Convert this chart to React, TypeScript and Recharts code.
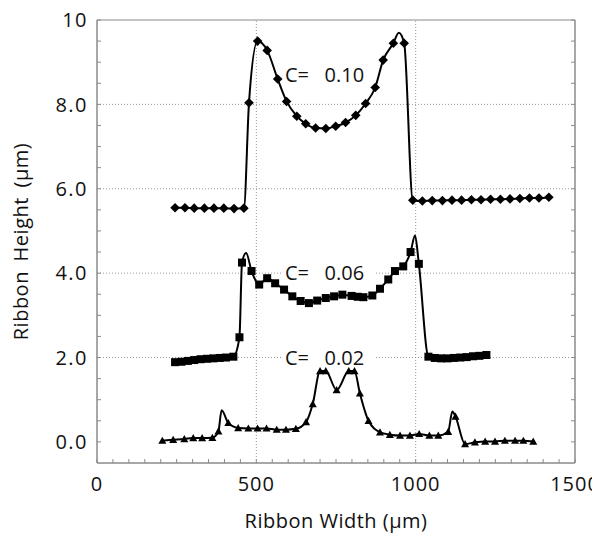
import React from 'react';
import {
  ComposedChart,
  Line,
  Scatter,
  XAxis,
  YAxis,
  ReferenceLine,
  ReferenceArea,
  ReferenceDot,
} from 'recharts';

type P = { x: number; y: number };

// C = 0.10 (diamond markers)
const c10Markers: P[] = [
  { x: 245, y: 5.55 }, { x: 276, y: 5.55 }, { x: 305, y: 5.54 }, { x: 337, y: 5.54 },
  { x: 367, y: 5.54 }, { x: 398, y: 5.54 }, { x: 430, y: 5.53 }, { x: 461, y: 5.54 },
  { x: 477, y: 8.04 }, { x: 504, y: 9.5 }, { x: 534, y: 9.28 }, { x: 567, y: 8.6 },
  { x: 595, y: 8.07 }, { x: 627, y: 7.72 }, { x: 655, y: 7.54 }, { x: 686, y: 7.44 },
  { x: 718, y: 7.43 }, { x: 749, y: 7.48 }, { x: 780, y: 7.57 }, { x: 812, y: 7.74 },
  { x: 843, y: 8.02 }, { x: 873, y: 8.4 }, { x: 898, y: 9.05 }, { x: 930, y: 9.45 },
  { x: 964, y: 9.45 }, { x: 991, y: 5.73 }, { x: 1021, y: 5.71 }, { x: 1052, y: 5.72 },
  { x: 1084, y: 5.72 }, { x: 1114, y: 5.73 }, { x: 1144, y: 5.73 }, { x: 1175, y: 5.74 },
  { x: 1205, y: 5.74 }, { x: 1235, y: 5.75 }, { x: 1266, y: 5.75 }, { x: 1296, y: 5.76 },
  { x: 1327, y: 5.77 }, { x: 1357, y: 5.78 }, { x: 1387, y: 5.78 }, { x: 1418, y: 5.8 },
];
const c10CurveOnly: P[] = [{ x: 947, y: 9.7 }];

// C = 0.06 (square markers)
const c06Markers: P[] = [
  { x: 245, y: 1.89 }, { x: 265, y: 1.9 }, { x: 285, y: 1.92 }, { x: 305, y: 1.94 },
  { x: 325, y: 1.96 }, { x: 345, y: 1.97 }, { x: 365, y: 1.98 }, { x: 385, y: 1.99 },
  { x: 405, y: 2.0 }, { x: 428, y: 2.02 }, { x: 447, y: 2.48 }, { x: 455, y: 4.25 },
  { x: 485, y: 4.05 }, { x: 509, y: 3.73 }, { x: 534, y: 3.88 }, { x: 559, y: 3.76 },
  { x: 587, y: 3.61 }, { x: 613, y: 3.45 }, { x: 639, y: 3.34 }, { x: 665, y: 3.29 },
  { x: 691, y: 3.35 }, { x: 718, y: 3.41 }, { x: 744, y: 3.45 }, { x: 770, y: 3.49 },
  { x: 799, y: 3.46 }, { x: 818, y: 3.44 }, { x: 836, y: 3.43 }, { x: 864, y: 3.47 },
  { x: 888, y: 3.63 }, { x: 914, y: 3.85 }, { x: 935, y: 4.05 }, { x: 961, y: 4.16 },
  { x: 984, y: 4.5 }, { x: 1010, y: 4.22 }, { x: 1040, y: 2.02 }, { x: 1060, y: 1.99 },
  { x: 1080, y: 1.98 }, { x: 1100, y: 1.98 }, { x: 1120, y: 1.99 }, { x: 1140, y: 2.0 },
  { x: 1160, y: 2.01 }, { x: 1180, y: 2.03 }, { x: 1200, y: 2.04 }, { x: 1222, y: 2.06 },
];
const c06CurveOnly: P[] = [{ x: 468, y: 4.48 }, { x: 998, y: 4.89 }];

// C = 0.02 (triangle markers)
const c02Markers: P[] = [
  { x: 205, y: 0.03 }, { x: 239, y: 0.05 }, { x: 274, y: 0.07 }, { x: 302, y: 0.09 },
  { x: 330, y: 0.09 }, { x: 362, y: 0.1 }, { x: 381, y: 0.25 }, { x: 412, y: 0.45 },
  { x: 443, y: 0.33 }, { x: 475, y: 0.32 }, { x: 504, y: 0.32 }, { x: 532, y: 0.32 },
  { x: 564, y: 0.29 }, { x: 593, y: 0.29 }, { x: 624, y: 0.31 }, { x: 656, y: 0.47 },
  { x: 677, y: 0.9 }, { x: 700, y: 1.68 }, { x: 718, y: 1.68 }, { x: 752, y: 1.23 },
  { x: 790, y: 1.68 }, { x: 808, y: 1.68 }, { x: 825, y: 1.15 }, { x: 852, y: 0.5 },
  { x: 888, y: 0.23 }, { x: 919, y: 0.17 }, { x: 951, y: 0.15 }, { x: 982, y: 0.15 },
  { x: 1011, y: 0.19 }, { x: 1043, y: 0.15 }, { x: 1071, y: 0.15 }, { x: 1102, y: 0.24 },
  { x: 1125, y: 0.6 }, { x: 1155, y: -0.05 }, { x: 1186, y: -0.01 }, { x: 1218, y: 0.01 },
  { x: 1249, y: 0.01 }, { x: 1280, y: 0.03 }, { x: 1312, y: 0.03 }, { x: 1338, y: 0.03 },
  { x: 1369, y: 0.01 },
];
const c02CurveOnly: P[] = [{ x: 391, y: 0.75 }, { x: 1115, y: 0.72 }];

const seriesLabels = ['C=   0.10', 'C=   0.06', 'C=   0.02'];
const labelAnchorX = [590, 590, 590];
const labelAnchorY = [8.7, 4.0, 2.0];

const xMajorTicks = [0, 500, 1000, 1500];
const yMajorTicks = [0, 2, 4, 6, 8, 10];
const xTickLabels: Record<number, string> = { 0: '0', 500: '500', 1000: '1000', 1500: '1500' };
const yTickLabels: Record<number, string> = { 0: '0.0', 2: '2.0', 4: '4.0', 6: '6.0', 8: '8.0', 10: '10' };
const xMinorTicks = Array.from({ length: 31 }, (_, i) => i * 50);
const yMinorTicks = Array.from({ length: 21 }, (_, i) => i * 0.5);

const FONT = '"Open Sans", sans-serif';
const AXIS = '#8a8a8a';

const merge = (a: P[], b: P[]) => [...a, ...b].sort((p, q) => p.x - q.x);

const XTick = (props: any) => {
  const { x, y, payload } = props;
  const v = payload.value;
  const label = xTickLabels[v];
  return (
    <g>
      <line x1={x} x2={x} y1={y} y2={y - 4} stroke={AXIS} strokeWidth={1} />
      {label !== undefined && (
        <text x={x} y={y + 28} textAnchor="middle" fontFamily={FONT} fontSize={20} fill="#111" letterSpacing={1}>
          {label}
        </text>
      )}
    </g>
  );
};

const YTick = (props: any) => {
  const { x, y, payload } = props;
  const v = payload.value;
  const label = yTickLabels[v];
  return (
    <g>
      <line x1={x} x2={x + 4} y1={y} y2={y} stroke={AXIS} strokeWidth={1} />
      {label !== undefined && (
        <text x={x - 9} y={y} dy="0.36em" textAnchor="end" fontFamily={FONT} fontSize={20} fill="#111" letterSpacing={1.5}>
          {label}
        </text>
      )}
    </g>
  );
};

const RTick = (props: any) => {
  const { x, y } = props;
  return <line x1={x} x2={x - 4} y1={y} y2={y} stroke={AXIS} strokeWidth={1} />;
};

const Diamond = (props: any) => {
  const { cx, cy } = props;
  const r = 4.8;
  return <polygon points={`${cx},${cy - r} ${cx + r},${cy} ${cx},${cy + r} ${cx - r},${cy}`} fill="#000" />;
};
const Square = (props: any) => {
  const { cx, cy } = props;
  const h = 4;
  return <rect x={cx - h} y={cy - h} width={2 * h} height={2 * h} fill="#000" />;
};
const Triangle = (props: any) => {
  const { cx, cy } = props;
  const h = 4;
  return <polygon points={`${cx},${cy - h} ${cx + h},${cy + h * 0.8} ${cx - h},${cy + h * 0.8}`} fill="#000" />;
};

const makeLabelShape = (text: string) => (props: any) => {
  const { cx, cy } = props;
  return (
    <g>
      <rect x={cx - 2} y={cy - 11} width={92} height={22} fill="#fff" />
      <text x={cx} y={cy} dy="0.36em" fontFamily={FONT} fontSize={20} fill="#111" style={{ whiteSpace: 'pre' }}>
        {text}
      </text>
    </g>
  );
};

export default function App() {
  return (
    <div style={{ margin: '-8px 0 0 -8px', width: 600, height: 537 }}>
      <ComposedChart
        width={600}
        height={537}
        margin={{ top: 20, right: 24, bottom: 0, left: 0 }}
      >
        <XAxis
          type="number"
          dataKey="x"
          domain={[0, 1500]}
          ticks={xMinorTicks}
          interval={0}
          tickSize={0}
          tickMargin={0}
          tickLine={false}
          tick={<XTick />}
          axisLine={{ stroke: AXIS }}
          height={74}
          allowDataOverflow
          label={{
            content: (p: any) => {
              const vb = p.viewBox;
              return (
                <text x={vb.x + vb.width / 2} y={528} textAnchor="middle" fontFamily={FONT} fontSize={20} fill="#111" letterSpacing={0.5}>
                  Ribbon Width (μm)
                </text>
              );
            },
          }}
        />
        <YAxis
          type="number"
          dataKey="y"
          domain={[-0.5, 10]}
          ticks={yMinorTicks}
          interval={0}
          tickSize={0}
          tickMargin={0}
          tickLine={false}
          tick={<YTick />}
          axisLine={{ stroke: AXIS }}
          width={97}
          allowDataOverflow
          label={{
            content: (p: any) => {
              const vb = p.viewBox;
              const cy = vb.y + vb.height / 2;
              return (
                <text x={28} y={cy} transform={`rotate(-90, 28, ${cy})`} textAnchor="middle" fontFamily={FONT} fontSize={20} fill="#111" letterSpacing={0.5} wordSpacing={4}>
                  Ribbon Height (μm)
                </text>
              );
            },
          }}
        />
        <YAxis
          yAxisId="right"
          orientation="right"
          type="number"
          dataKey="y"
          domain={[-0.5, 10]}
          ticks={yMinorTicks}
          interval={0}
          tickSize={0}
          tickMargin={0}
          tickLine={false}
          tick={<RTick />}
          axisLine={{ stroke: AXIS }}
          width={1}
          allowDataOverflow
        />
        <ReferenceArea x1={0} x2={1500} y1={-0.5} y2={10} fill="none" stroke={AXIS} strokeWidth={1} />
        {xMajorTicks.slice(1, 3).map((v) => (
          <ReferenceLine key={'gx' + v} x={v} stroke="#999" strokeDasharray="1 2" />
        ))}
        {yMajorTicks.slice(1, 5).map((v) => (
          <ReferenceLine key={'gy' + v} y={v} stroke="#999" strokeDasharray="1 2" />
        ))}
        {seriesLabels.map((t, i) => (
          <ReferenceDot key={'lab' + i} x={labelAnchorX[i]} y={labelAnchorY[i]} r={0} shape={makeLabelShape(t)} />
        ))}
        <Line data={merge(c10Markers, c10CurveOnly)} dataKey="y" type="monotone" stroke="#000" strokeWidth={2} dot={false} activeDot={false} isAnimationActive={false} />
        <Line data={merge(c06Markers, c06CurveOnly)} dataKey="y" type="monotone" stroke="#000" strokeWidth={2} dot={false} activeDot={false} isAnimationActive={false} />
        <Line data={merge(c02Markers, c02CurveOnly)} dataKey="y" type="monotone" stroke="#000" strokeWidth={2} dot={false} activeDot={false} isAnimationActive={false} />
        <Scatter data={c10Markers} dataKey="y" shape={<Diamond />} isAnimationActive={false} />
        <Scatter data={c06Markers} dataKey="y" shape={<Square />} isAnimationActive={false} />
        <Scatter data={c02Markers} dataKey="y" shape={<Triangle />} isAnimationActive={false} />
      </ComposedChart>
    </div>
  );
}
